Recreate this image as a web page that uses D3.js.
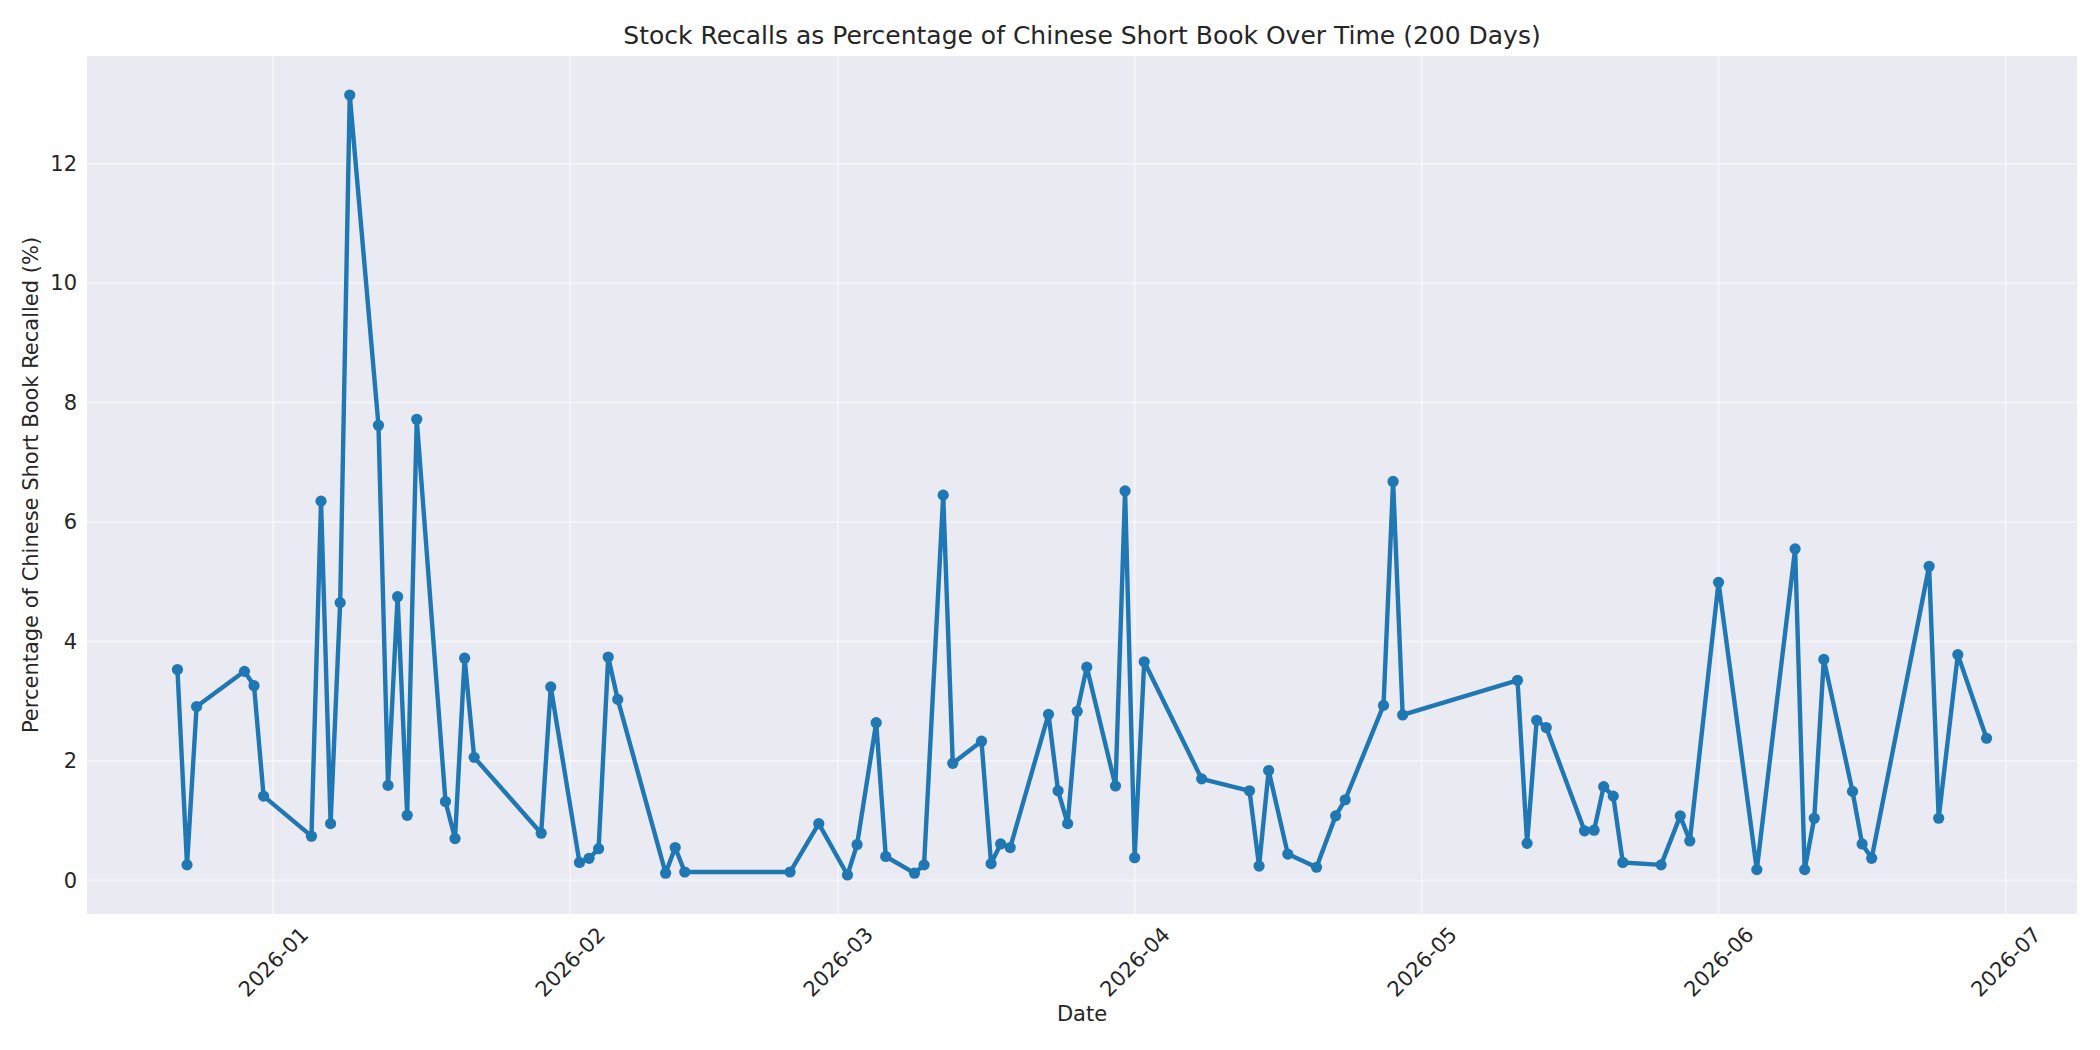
<!DOCTYPE html>
<html>
<head>
<meta charset="utf-8">
<script src="https://cdn.jsdelivr.net/npm/d3@7"></script>
<style>
  body { margin: 0; background: #fff; }
  svg { display: block; font-family: "DejaVu Sans", sans-serif; }
</style>
</head>
<body>
<div id="chart"></div>
<script>
const dates = [
  "2025-12-22","2025-12-23","2025-12-24","2025-12-29","2025-12-30","2025-12-31",
  "2026-01-05","2026-01-06","2026-01-07","2026-01-08","2026-01-09","2026-01-12",
  "2026-01-13","2026-01-14","2026-01-15","2026-01-16","2026-01-19","2026-01-20",
  "2026-01-21","2026-01-22","2026-01-29","2026-01-30","2026-02-02","2026-02-03",
  "2026-02-04","2026-02-05","2026-02-06","2026-02-11","2026-02-12","2026-02-13",
  "2026-02-24","2026-02-27","2026-03-02","2026-03-03","2026-03-05","2026-03-06",
  "2026-03-09","2026-03-10","2026-03-12","2026-03-13","2026-03-16","2026-03-17",
  "2026-03-18","2026-03-19","2026-03-23","2026-03-24","2026-03-25","2026-03-26",
  "2026-03-27","2026-03-30","2026-03-31","2026-04-01","2026-04-02","2026-04-08",
  "2026-04-13","2026-04-14","2026-04-15","2026-04-17","2026-04-20","2026-04-22",
  "2026-04-23","2026-04-27","2026-04-28","2026-04-29","2026-05-11","2026-05-12",
  "2026-05-13","2026-05-14","2026-05-18","2026-05-19","2026-05-20","2026-05-21",
  "2026-05-22","2026-05-26","2026-05-28","2026-05-29","2026-06-01","2026-06-05",
  "2026-06-09","2026-06-10","2026-06-11","2026-06-12","2026-06-15","2026-06-16",
  "2026-06-17","2026-06-23","2026-06-24","2026-06-26","2026-06-29"
];
const recallPct = [
  3.53, 0.26, 2.91, 3.50, 3.26, 1.41,
  0.74, 6.35, 0.95, 4.65, 13.15, 7.62,
  1.59, 4.75, 1.09, 7.72, 1.32, 0.70,
  3.72, 2.06, 0.79, 3.24, 0.30, 0.37,
  0.53, 3.74, 3.03, 0.12, 0.55, 0.14,
  0.14, 0.95, 0.09, 0.60, 2.64, 0.40,
  0.12, 0.26, 6.45, 1.96, 2.33, 0.28,
  0.61, 0.55, 2.78, 1.50, 0.95, 2.83,
  3.57, 1.58, 6.52, 0.38, 3.66, 1.70,
  1.50, 0.24, 1.84, 0.44, 0.22, 1.08,
  1.35, 2.93, 6.68, 2.77, 3.35, 0.62,
  2.68, 2.56, 0.83, 0.84, 1.57, 1.41,
  0.30, 0.26, 1.08, 0.66, 4.99, 0.18,
  5.55, 0.18, 1.04, 3.70, 1.49, 0.61,
  0.37, 5.26, 1.04, 3.78, 2.38
];
const yTicks = [0, 2, 4, 6, 8, 10, 12];
const xTickLabels = ["2026-01","2026-02","2026-03","2026-04","2026-05","2026-06","2026-07"];

const titleText = "Stock Recalls as Percentage of Chinese Short Book Over Time (200 Days)";
const xLabel = "Date";
const yLabel = "Percentage of Chinese Short Book Recalled (%)";

const W = 2100, H = 1050;
const margin = {top: 56, right: 23, bottom: 136, left: 87};
const width = W - margin.left - margin.right;
const height = H - margin.top - margin.bottom;

const parse = d3.utcParse("%Y-%m-%d");
const parseMonth = d3.utcParse("%Y-%m");
const data = dates.map((d, i) => ({date: parse(d), value: recallPct[i]}));

const svg = d3.select("#chart")
  .append("svg")
  .attr("width", W)
  .attr("height", H);

const g = svg.append("g")
  .attr("transform", `translate(${margin.left},${margin.top})`);

// matplotlib-style 5% padding
const xExt = d3.extent(data, d => d.date);
const xPad = (xExt[1] - xExt[0]) * 0.05;
const xScale = d3.scaleUtc()
  .domain([new Date(+xExt[0] - xPad), new Date(+xExt[1] + xPad)])
  .range([0, width]);

const yExt = d3.extent(data, d => d.value);
const yPad = (yExt[1] - yExt[0]) * 0.05;
const yScale = d3.scaleLinear()
  .domain([yExt[0] - yPad, yExt[1] + yPad])
  .range([height, 0]);

g.append("rect")
  .attr("width", width)
  .attr("height", height)
  .attr("fill", "#eaeaf2");

const xTicks = xTickLabels.map(parseMonth);

// grid
g.append("g")
  .selectAll("line")
  .data(yTicks)
  .join("line")
  .attr("x1", 0).attr("x2", width)
  .attr("y1", d => yScale(d)).attr("y2", d => yScale(d))
  .attr("stroke", "#fff").attr("stroke-opacity", 0.45).attr("stroke-width", 2);

g.append("g")
  .selectAll("line")
  .data(xTicks)
  .join("line")
  .attr("x1", d => xScale(d)).attr("x2", d => xScale(d))
  .attr("y1", 0).attr("y2", height)
  .attr("stroke", "#fff").attr("stroke-opacity", 0.45).attr("stroke-width", 2);

// axes (no spines, seaborn darkgrid look)
const yAxis = g.append("g")
  .call(d3.axisLeft(yScale).tickValues(yTicks).tickSize(0).tickPadding(10).tickFormat(d3.format("d")));
yAxis.select(".domain").remove();
yAxis.selectAll("text")
  .attr("font-size", 21)
  .attr("fill", "#262626")
  .attr("font-family", "DejaVu Sans");

const xAxis = g.append("g")
  .attr("transform", `translate(0,${height})`)
  .call(d3.axisBottom(xScale).tickValues(xTicks).tickSize(0).tickFormat(d3.utcFormat("%Y-%m")));
xAxis.select(".domain").remove();
xAxis.selectAll("text")
  .attr("font-size", 21)
  .attr("fill", "#262626")
  .attr("font-family", "DejaVu Sans")
  .attr("text-anchor", "middle")
  .attr("dominant-baseline", "central")
  .attr("y", 0)
  .attr("dy", null)
  .attr("transform", "translate(0,48) rotate(-45)");

// line + markers
g.append("path")
  .datum(data)
  .attr("fill", "none")
  .attr("stroke", "#1f77b4")
  .attr("stroke-width", 4.4)
  .attr("stroke-linejoin", "round")
  .attr("d", d3.line()
    .x(d => xScale(d.date))
    .y(d => yScale(d.value)));

g.selectAll(".dot")
  .data(data)
  .join("circle")
  .attr("class", "dot")
  .attr("cx", d => xScale(d.date))
  .attr("cy", d => yScale(d.value))
  .attr("r", 5.6)
  .attr("fill", "#1f77b4");

// labels
svg.append("text")
  .attr("x", margin.left + width / 2)
  .attr("y", 44)
  .attr("text-anchor", "middle")
  .attr("font-size", 25)
  .attr("fill", "#262626")
  .text(titleText);

svg.append("text")
  .attr("x", margin.left + width / 2)
  .attr("y", 1014)
  .attr("text-anchor", "middle")
  .attr("dominant-baseline", "central")
  .attr("font-size", 21)
  .attr("fill", "#262626")
  .text(xLabel);

svg.append("text")
  .attr("transform", `translate(31,${margin.top + height / 2}) rotate(-90)`)
  .attr("text-anchor", "middle")
  .attr("dominant-baseline", "central")
  .attr("font-size", 21)
  .attr("fill", "#262626")
  .text(yLabel);
</script>
</body>
</html>
